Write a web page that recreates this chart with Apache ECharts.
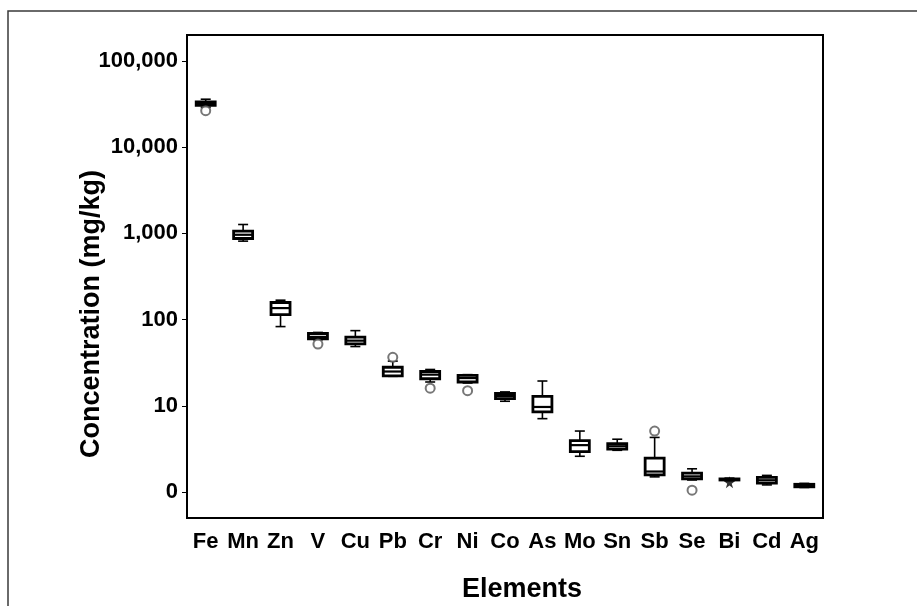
<!DOCTYPE html>
<html><head><meta charset="utf-8">
<script src="https://cdn.jsdelivr.net/npm/echarts@6/dist/echarts.min.js"></script>
<style>html,body{margin:0;padding:0;background:#fff}#c{width:917px;height:606px}</style>
</head><body><div id="c"></div>
<script>
const categories = ['Fe','Mn','Zn','V','Cu','Pb','Cr','Ni','Co','As','Mo','Sn','Sb','Se','Bi','Cd','Ag'];
const whiskerLow  = [29000, 813, 83, 58.5, 48.7, 22, 18.9, 18.4, 11.3, 7.1, 2.6, 3.05, 1.5, 1.38, 1.36, 1.21, 1.13];
const quartile1   = [30500, 873, 114, 59.7, 52.3, 22.3, 20.6, 18.9, 12.1, 8.5, 2.95, 3.15, 1.58, 1.42, 1.38, 1.27, 1.15];
const medians     = [32000, 964, 136, 63, 57, 25, 23, 21, 13, 9.7, 3.5, 3.4, 1.73, 1.52, 1.4, 1.37, 1.2];
const quartile3   = [33500, 1060, 158, 69, 62.5, 28, 25, 22.5, 13.9, 12.9, 3.95, 3.65, 2.47, 1.66, 1.42, 1.48, 1.23];
const whiskerHigh = [36000, 1268, 168, 71, 74.5, 33, 26.4, 23, 14.5, 19.4, 5.1, 4.1, 4.3, 1.86, 1.45, 1.56, 1.26];
const outlierPoints = [['Fe', 26500], ['V', 52], ['Pb', 36.5], ['Cr', 16], ['Ni', 15], ['Sb', 5.1], ['Se', 1.05]];
const extremePoints = [['Bi', 1.3]];
const yTickValues = [1, 10, 100, 1000, 10000, 100000];
const yTickLabels = ['0', '10', '100', '1,000', '10,000', '100,000'];

const FONT = '"Liberation Sans", Arial, sans-serif';
const boxData = categories.map((c, i) => [i, whiskerLow[i], quartile1[i], medians[i], quartile3[i], whiskerHigh[i]]);

const chart = echarts.init(document.getElementById('c'), null, {renderer: 'canvas'});
chart.setOption({
  animation: false,
  backgroundColor: '#fff',
  grid: {left: 187, right: 94, top: 35, bottom: 88, show: true, borderColor: '#000', borderWidth: 2},
  graphic: [
    {type: 'rect', z: -10, shape: {x: 8, y: 11, width: 1000, height: 1000}, style: {fill: 'none', stroke: '#3a3a3a', lineWidth: 1.5}},
    {type: 'text', x: 92, y: 314, rotation: Math.PI / 2,
     style: {text: 'Concentration (mg/kg)', font: 'bold 27px ' + FONT, align: 'center', verticalAlign: 'middle', fill: '#000'}},
    {type: 'text', x: 522, y: 590,
     style: {text: 'Elements', font: 'bold 27px ' + FONT, align: 'center', verticalAlign: 'middle', fill: '#000'}}
  ],
  xAxis: {
    type: 'category', data: categories, boundaryGap: true,
    axisLine: {lineStyle: {color: '#000', width: 2}},
    axisTick: {alignWithLabel: true, length: 6, lineStyle: {color: '#000', width: 1}},
    axisLabel: {color: '#000', fontFamily: FONT, fontWeight: 'bold', fontSize: 22, margin: 13, interval: 0}
  },
  yAxis: {
    type: 'log', logBase: 10, min: 0.5, max: 200000,
    axisLine: {show: true, lineStyle: {color: '#000', width: 2}},
    axisTick: {show: true, length: 5, customValues: yTickValues, lineStyle: {color: '#000', width: 1}},
    axisLabel: {
      customValues: yTickValues,
      color: '#000', fontFamily: FONT, fontWeight: 'bold', fontSize: 22, margin: 9,
      formatter: v => yTickLabels[Math.round(Math.log10(v))]
    },
    splitLine: {show: false}
  },
  series: [
    {
      type: 'custom', data: boxData, encode: {x: 0, y: [1, 2, 3, 4, 5]},
      renderItem: (params, api) => {
        const idx = api.value(0);
        const lo = api.coord([idx, api.value(1)]);
        const b1 = api.coord([idx, api.value(2)]);
        const md = api.coord([idx, api.value(3)]);
        const b3 = api.coord([idx, api.value(4)]);
        const hi = api.coord([idx, api.value(5)]);
        const x = lo[0], bw = 19, cw = 10;
        const ws = {stroke: '#000', lineWidth: 1.6};
        return {type: 'group', children: [
          {type: 'line', shape: {x1: x, y1: hi[1], x2: x, y2: b3[1]}, style: ws},
          {type: 'line', shape: {x1: x, y1: b1[1], x2: x, y2: lo[1]}, style: ws},
          {type: 'line', shape: {x1: x - cw / 2, y1: hi[1], x2: x + cw / 2, y2: hi[1]}, style: ws},
          {type: 'line', shape: {x1: x - cw / 2, y1: lo[1], x2: x + cw / 2, y2: lo[1]}, style: ws},
          {type: 'rect', shape: {x: x - bw / 2, y: b3[1], width: bw, height: b1[1] - b3[1]},
           style: {fill: '#fff', stroke: '#000', lineWidth: 2.8}},
          {type: 'line', shape: {x1: x - bw / 2, y1: md[1], x2: x + bw / 2, y2: md[1]}, style: {stroke: '#000', lineWidth: 2.2}}
        ]};
      }
    },
    {
      type: 'scatter', data: outlierPoints, symbol: 'emptyCircle', symbolSize: 9,
      itemStyle: {color: '#555', borderColor: '#555', borderWidth: 1.5}
    },
    {
      type: 'scatter', data: extremePoints, symbolSize: 12,
      symbol: 'path://M50,0 L61,35 L98,35 L68,57 L79,91 L50,70 L21,91 L32,57 L2,35 L39,35 Z',
      itemStyle: {color: '#000'}
    }
  ]
});
</script>
</body></html>
